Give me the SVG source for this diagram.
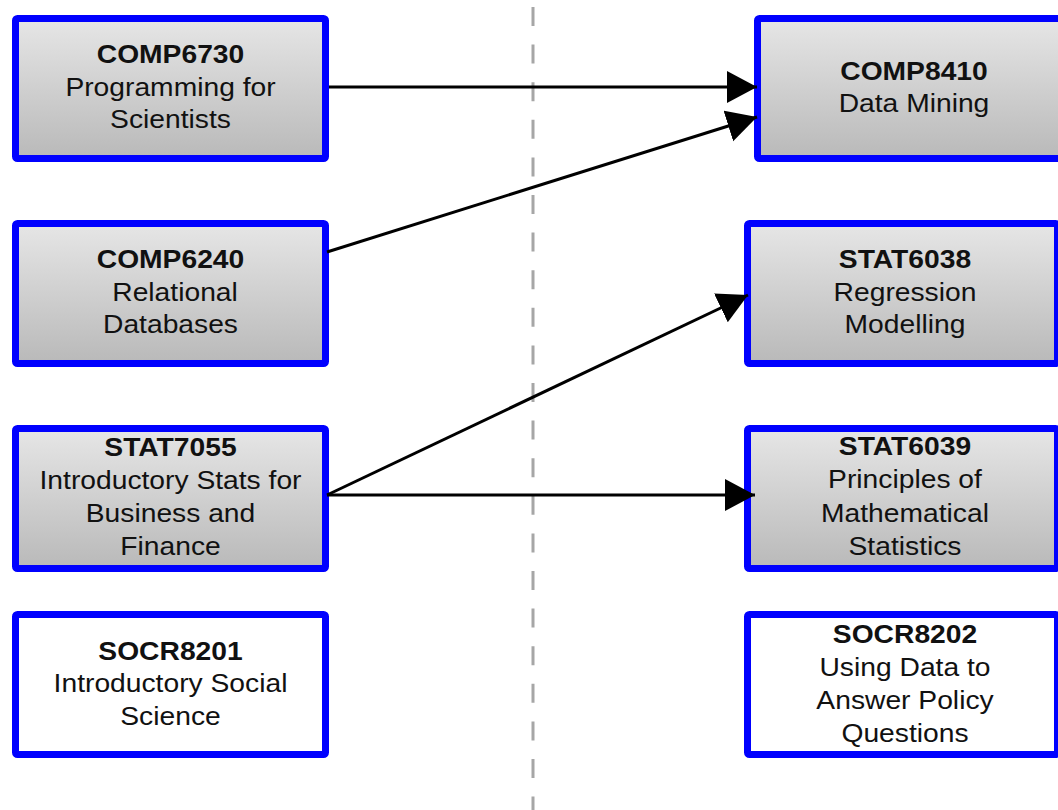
<svg xmlns="http://www.w3.org/2000/svg" width="1058" height="810" viewBox="0 0 1058 810">
<defs>
<linearGradient id="g" x1="0" y1="0" x2="0" y2="1">
<stop offset="0" stop-color="#e6e6e6"/>
<stop offset="1" stop-color="#b9b9b9"/>
</linearGradient>
<marker id="ah" markerUnits="userSpaceOnUse" markerWidth="31" markerHeight="33" refX="30" refY="16" orient="auto">
<path d="M0,0 L30,16 L0,32 Z" fill="#000"/>
</marker>
<style>
.box{stroke:#0000ff;stroke-width:7;stroke-linejoin:round;}
.grey{fill:url(#g);}
.white{fill:#ffffff;}
.inner{fill:none;stroke:#ececf4;stroke-width:1;}
text{font-family:"Liberation Sans",Arial,sans-serif;font-size:25px;fill:#111;text-anchor:middle;}
.t{font-weight:bold;}
.c{stroke:#000;stroke-width:3;fill:none;marker-end:url(#ah);}
.sep{stroke:#a6a6a6;stroke-width:3;stroke-dasharray:19 18.6;}
</style>
</defs>
<rect width="1058" height="810" fill="#ffffff"/>
<line class="sep" x1="533" y1="7" x2="533" y2="810"/>

<g id="COMP6730">
<rect class="box grey" x="15.5" y="18.5" width="310" height="140" rx="2"/>
<g transform="translate(170.5 0) scale(1.13 1)">
<text class="t" x="0" y="63">COMP6730</text>
<text x="0" y="96">Programming for</text>
<text x="0" y="128">Scientists</text>
</g>
</g>

<g id="COMP6240">
<rect class="box grey" x="15.5" y="223.5" width="310" height="140" rx="2"/>
<g transform="translate(170.5 0) scale(1.13 1)">
<text class="t" x="0" y="268">COMP6240</text>
<text x="4" y="301">Relational</text>
<text x="0" y="333">Databases</text>
</g>
</g>

<g id="STAT7055">
<rect class="box grey" x="15.5" y="428.5" width="310" height="140" rx="2"/>
<g transform="translate(170.5 0) scale(1.13 1)">
<text class="t" x="0" y="456">STAT7055</text>
<text x="0" y="489">Introductory Stats for</text>
<text x="0" y="522">Business and</text>
<text x="0" y="555">Finance</text>
</g>
</g>

<g id="SOCR8201">
<rect class="box white" x="15.5" y="614.5" width="310" height="140" rx="2"/>
<g transform="translate(170.5 0) scale(1.13 1)">
<text class="t" x="0" y="660">SOCR8201</text>
<text x="0" y="692">Introductory Social</text>
<text x="0" y="725">Science</text>
</g>
</g>

<g id="COMP8410">
<rect class="box grey" x="757.5" y="18.5" width="310" height="140" rx="2"/>
<g transform="translate(914 0) scale(1.13 1)">
<text class="t" x="0" y="80">COMP8410</text>
<text x="0" y="112">Data Mining</text>
</g>
</g>

<g id="STAT6038">
<rect class="box grey" x="747.5" y="223.5" width="310" height="140" rx="2"/>
<g transform="translate(905 0) scale(1.13 1)">
<text class="t" x="0" y="268">STAT6038</text>
<text x="0" y="301">Regression</text>
<text x="0" y="333">Modelling</text>
</g>
</g>

<g id="STAT6039">
<rect class="box grey" x="747.5" y="428.5" width="310" height="140" rx="2"/>
<g transform="translate(905 0) scale(1.13 1)">
<text class="t" x="0" y="455">STAT6039</text>
<text x="0" y="488">Principles of</text>
<text x="0" y="522">Mathematical</text>
<text x="0" y="555">Statistics</text>
</g>
</g>

<g id="SOCR8202">
<rect class="box white" x="747.5" y="614.5" width="310" height="140" rx="2"/>
<g transform="translate(905 0) scale(1.13 1)">
<text class="t" x="0" y="643">SOCR8202</text>
<text x="0" y="676">Using Data to</text>
<text x="0" y="709">Answer Policy</text>
<text x="0" y="742">Questions</text>
</g>
</g>

<g id="connectors">
<line class="c" x1="329" y1="87" x2="757" y2="87"/>
<line class="c" x1="327" y1="252" x2="757" y2="117"/>
<line class="c" x1="327" y1="495" x2="748" y2="295"/>
<line class="c" x1="327" y1="495" x2="755" y2="495"/>
</g>
</svg>
